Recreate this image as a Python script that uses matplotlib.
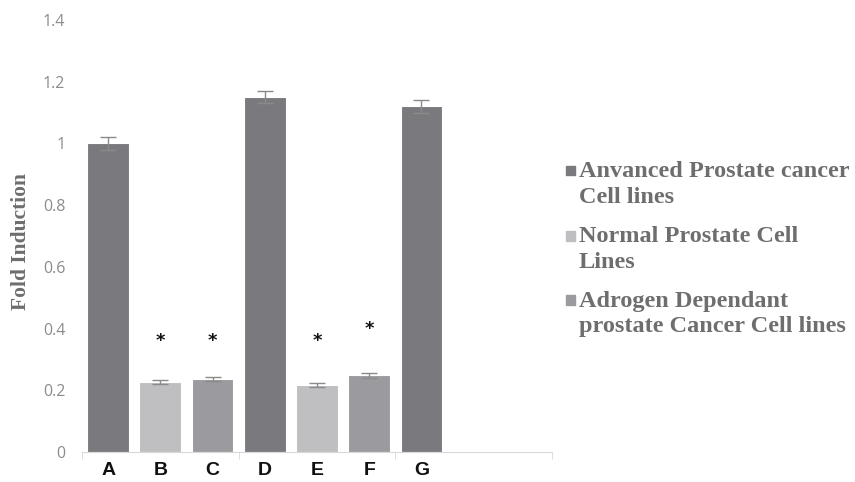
import matplotlib.pyplot as plt
from matplotlib.patches import Rectangle

labels = ['A', 'B', 'C', 'D', 'E', 'F', 'G']
values = [1.0, 0.227, 0.236, 1.15, 0.217, 0.248, 1.12]
errors = [0.02, 0.007, 0.007, 0.02, 0.007, 0.008, 0.02]
groups = [0, 1, 2, 0, 1, 2, 0]
star_bars = ['B', 'C', 'E', 'F']
star_y = [0.36, 0.36, 0.36, 0.40]
legend_labels = ['Anvanced Prostate cancer\nCell lines',
                 'Normal Prostate Cell\nLines',
                 'Adrogen Dependant\nprostate Cancer Cell lines']
colors = ['#7a7a7e', '#bfbfc2', '#9b9b9f']
n_slots = 9

fig = plt.figure(figsize=(8.55, 4.82), dpi=100)
ax = fig.add_axes([0.0959, 0.0622, 0.5497, 0.8963])

x = list(range(len(labels)))
ax.bar(x, values, width=0.8, color=[colors[g] for g in groups],
       edgecolor='white', linewidth=0.8, zorder=2)
ax.errorbar(x, values, yerr=errors, fmt='none', ecolor='#8a8a8a',
            elinewidth=1, capsize=6, capthick=1, zorder=3)

for lab, yv in zip(star_bars, star_y):
    ax.text(labels.index(lab), yv, '*', ha='center', va='center',
            fontsize=13, fontweight='bold', color='#111111')

ax.set_xlim(-0.5, n_slots - 0.5)
ax.set_ylim(0, 1.4)
ax.set_yticks([0, 0.2, 0.4, 0.6, 0.8, 1.0, 1.2, 1.4])
ax.set_yticklabels(['0', '0.2', '0.4', '0.6', '0.8', '1', '1.2', '1.4'],
                   fontsize=11.5, color='#8c8c8c', family='Open Sans')
ax.tick_params(axis='y', length=0, pad=12)

ax.set_xticks(x)
ax.set_xticklabels(labels, fontsize=14, fontweight='bold',
                   family='Liberation Sans', color='#111111')
ax.set_xticks([-0.5, 2.5, 5.5, 8.5], minor=True)
ax.tick_params(axis='x', which='major', length=0, pad=7)
ax.tick_params(axis='x', which='minor', length=5, color='#d9d9d9')

for s in ['top', 'right', 'left']:
    ax.spines[s].set_visible(False)
ax.spines['bottom'].set_color('#d9d9d9')

fig.text(0.024, 0.50, 'Fold Induction', rotation=90, ha='center', va='center',
         fontsize=15.5, fontweight='bold', family='Liberation Serif',
         color='#6e6e6e')

# legend drawn by hand so the square sits on the first line
ys = [0.647, 0.512, 0.378]
for lab, col, yy in zip(legend_labels, colors, ys):
    fig.patches.append(Rectangle((0.6615, yy - 0.011), 0.0115, 0.0205,
                                 transform=fig.transFigure, color=col))
    fig.text(0.677, yy + 0.019, lab, ha='left', va='top', fontsize=17.5,
             fontweight='bold', family='Liberation Serif', color='#6e6e6e',
             linespacing=1.3)

fig.savefig('out.png', dpi=100)
